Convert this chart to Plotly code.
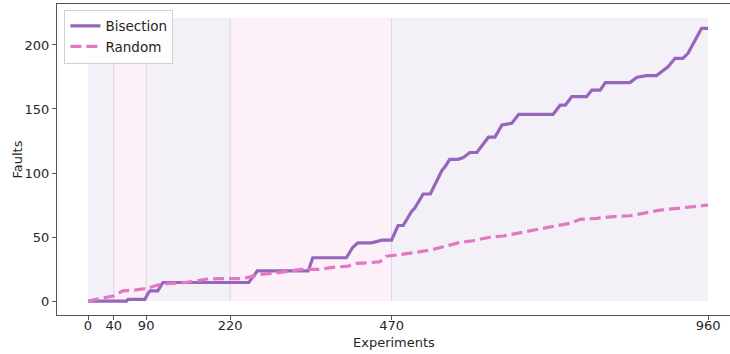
import plotly.graph_objects as go

# ---- data ----
bisection_x = [0, 60, 62, 88, 93, 96, 108, 116, 249, 262, 341, 348, 400, 410, 418, 439,
               455, 470, 480, 488, 501, 506, 519, 530, 548, 553, 560, 573, 581, 591, 602,
               620, 630, 641, 656, 667, 720, 731, 739, 749, 772, 780, 793, 801, 839, 850,
               865, 880, 898, 909, 921, 929, 950, 960]
bisection_y = [0, 0, 1.3, 1.3, 6, 8, 8, 14.5, 14.5, 23.5, 23.5, 33.8, 33.8, 42, 45.5, 45.5,
               47.6, 47.6, 59, 59, 70, 72.6, 83.6, 83.6, 102, 105, 110.7, 110.7, 112, 116, 116,
               128, 128, 137.5, 138.8, 145.8, 145.8, 153, 153, 159.6, 159.6, 164.8, 164.8, 170.6,
               170.6, 174.8, 176, 176, 183, 189.6, 189.6, 193.5, 213, 213]

random_x = [0, 23, 39, 54, 73, 91, 108, 127, 147, 166, 184, 204, 240, 251, 271, 292, 313,
            331, 356, 379, 403, 416, 437, 452, 462, 472, 478, 503, 530, 550, 576, 596, 622,
            643, 669, 690, 700, 723, 746, 762, 788, 813, 839, 862, 886, 912, 937, 960]
random_y = [0, 2, 3.9, 8, 8.6, 9.9, 12.5, 13.8, 14.3, 15.6, 17.2, 17.5, 17.5, 19, 21, 22,
            23.7, 24.7, 24.7, 26.3, 27.3, 29.4, 30, 30.7, 35, 35.5, 36, 37.7, 39.8, 42.4,
            45.8, 47.1, 49.8, 50.8, 53.4, 55.5, 56.8, 58.6, 60.7, 63.8, 64.6, 65.9, 66.6, 69,
            71, 72.4, 73.7, 75]

span_edges = [0, 40, 90, 220, 470, 960]
span_colors = ["rgba(148,103,189,0.10)", "rgba(227,119,194,0.10)",
               "rgba(148,103,189,0.10)", "rgba(227,119,194,0.10)",
               "rgba(148,103,189,0.10)"]
span_top = 221
tick_vals = [0, 40, 90, 220, 470, 960]
y_ticks = [0, 50, 100, 150, 200]

PURPLE = "#9467bd"
PINK = "#e377c2"
FONT = "DejaVu Sans"
TXT = "#262626"

fig = go.Figure()

shapes = []
for i in range(len(span_edges) - 1):
    shapes.append(dict(type="rect", xref="x", yref="y", layer="below",
                       x0=span_edges[i], x1=span_edges[i + 1], y0=0, y1=span_top,
                       fillcolor=span_colors[i], line=dict(width=0)))
for e in span_edges[1:-1]:
    shapes.append(dict(type="line", xref="x", yref="y", layer="below",
                       x0=e, x1=e, y0=0, y1=span_top,
                       line=dict(color="rgba(180,150,205,0.35)", width=1)))

fig.add_trace(go.Scatter(x=bisection_x, y=bisection_y, mode="lines", name="Bisection",
                         line=dict(color=PURPLE, width=3.2)))
fig.add_trace(go.Scatter(x=random_x, y=random_y, mode="lines", name="Random",
                         line=dict(color=PINK, width=3.2, dash="11px,5px")))

fig.update_layout(
    width=730, height=354,
    margin=dict(l=57, r=0, t=4, b=39),
    paper_bgcolor="white", plot_bgcolor="white",
    font=dict(family=FONT, size=13, color=TXT),
    shapes=shapes,
    showlegend=True,
    legend=dict(x=0.011, y=0.982, xanchor="left", yanchor="top",
                bgcolor="rgba(255,255,255,0.85)", bordercolor="#d0d0d0", borderwidth=1,
                font=dict(family=FONT, size=13.5, color=TXT),
                tracegroupgap=0, itemwidth=30),
    xaxis=dict(range=[-48, 994], tickmode="array", tickvals=tick_vals,
               ticktext=[str(v) for v in tick_vals],
               showgrid=False, zeroline=False, showline=True, mirror=True,
               linecolor="#555555", linewidth=1, ticks="outside", ticklen=4,
               ticklabelstandoff=-6,
               tickcolor="#555555", tickfont=dict(size=13, color=TXT)),
    yaxis=dict(range=[-10.9, 232], tickmode="array", tickvals=y_ticks,
               showgrid=False, zeroline=False, showline=True, mirror=False,
               linecolor="#555555", linewidth=1, ticks="outside", ticklen=4,
               tickcolor="#555555", tickfont=dict(size=13, color=TXT)),
    annotations=[
        dict(text="Experiments", xref="paper", yref="paper", x=0.5, y=0,
             xanchor="center", yanchor="middle", yshift=-27, showarrow=False,
             font=dict(family=FONT, size=13, color=TXT)),
        dict(text="Faults", xref="paper", yref="paper", x=0, y=0.5,
             xanchor="center", yanchor="middle", xshift=-40, textangle=-90,
             showarrow=False, font=dict(family=FONT, size=13, color=TXT)),
    ],
)

fig.write_html("out.html", config={"displayModeBar": False},
               post_script="document.body.style.margin='0';document.body.style.padding='0';")
